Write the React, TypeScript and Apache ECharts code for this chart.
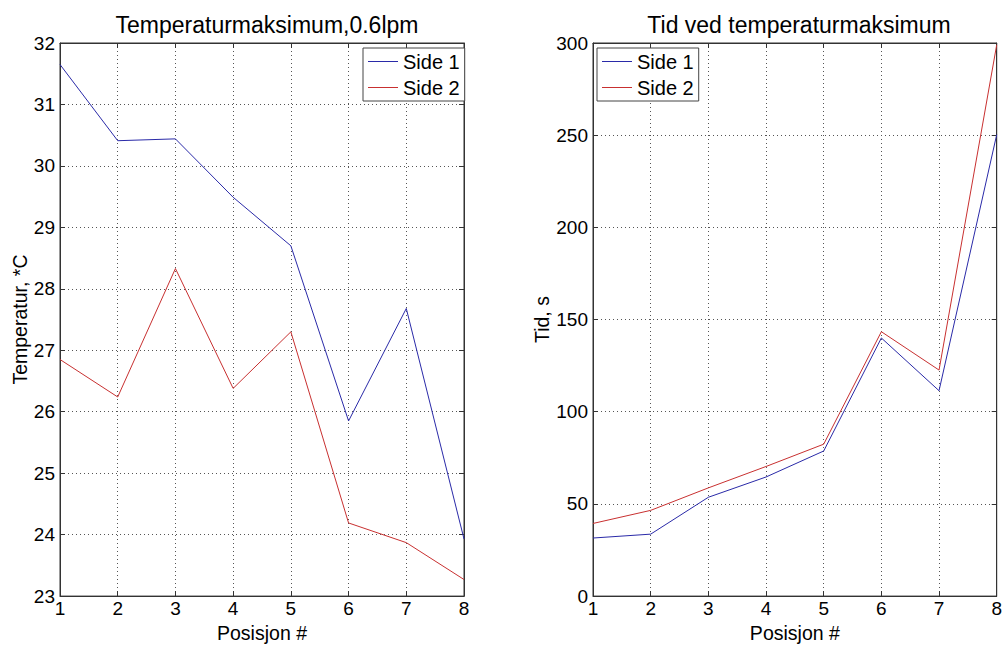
import React, { useEffect, useRef } from "react";
import * as echarts from "echarts";

const positions = [1, 2, 3, 4, 5, 6, 7, 8];
const tempSide1 = [31.65, 30.41, 30.44, 29.49, 28.7, 25.85, 27.68, 23.93];
const tempSide2 = [26.85, 26.24, 28.33, 26.38, 27.3, 24.19, 23.87, 23.27];
const timeSide1 = [31.5, 33.6, 53.6, 64.6, 78.7, 140.0, 111.4, 250.3];
const timeSide2 = [39.4, 46.5, 58.7, 70.3, 82.4, 143.4, 122.6, 299];

const leftTitle = "Temperaturmaksimum,0.6lpm";
const rightTitle = "Tid ved temperaturmaksimum";
const xName = "Posisjon #";
const leftYName = "Temperatur, *C";
const rightYName = "Tid, s";
const seriesNames = ["Side 1", "Side 2"];

const FONT = "'Liberation Sans', Arial, sans-serif";
const BLUE = "#2a2aa8";
const RED = "#c83030";
const AXIS = "#333";

function pairs(ys: number[]) {
  return positions.map((x, i) => [x, ys[i]]);
}

export default function App() {
  const ref = useRef<HTMLDivElement>(null);
  useEffect(() => {
    if (!ref.current) return;
    const chart = echarts.init(ref.current, null, { renderer: "svg" });
    const gridLine = { show: true, lineStyle: { color: "#555", type: [1, 3] as any, width: 1 } };
    const mkX = (gridIndex: number, position: "bottom" | "top") => ({
      type: "value",
      gridIndex,
      position,
      min: 1,
      max: 8,
      interval: 1,
      name: position === "bottom" ? xName : "",
      nameLocation: "middle",
      nameGap: 22,
      nameTextStyle: { fontFamily: FONT, fontSize: 19.5, color: "#000" },
      axisLine: { show: true, onZero: false, lineStyle: { color: AXIS, width: 1 } },
      axisTick: { show: true, inside: true, length: 5, lineStyle: { color: AXIS } },
      axisLabel: {
        show: position === "bottom",
        fontFamily: FONT,
        fontSize: 19,
        color: "#000",
        margin: 3,
      },
      splitLine: position === "bottom" ? gridLine : { show: false },
    });
    const mkY = (
      gridIndex: number,
      position: "left" | "right",
      min: number,
      max: number,
      interval: number,
      name: string,
      nameGap: number
    ) => ({
      type: "value",
      gridIndex,
      position,
      min,
      max,
      interval,
      name: position === "left" ? name : "",
      nameLocation: "middle",
      nameGap,
      nameRotate: 90,
      nameTextStyle: { fontFamily: FONT, fontSize: 19.5, color: "#000" },
      axisLine: { show: true, onZero: false, lineStyle: { color: AXIS, width: 1 } },
      axisTick: { show: true, inside: true, length: 5, lineStyle: { color: AXIS } },
      axisLabel: {
        show: position === "left",
        fontFamily: FONT,
        fontSize: 19,
        color: "#000",
        margin: 5,
      },
      splitLine: position === "left" ? gridLine : { show: false },
    });
    const legendBase = {
      orient: "vertical",
      top: 48,
      data: seriesNames,
      icon: "rect",
      itemWidth: 30,
      itemHeight: 1,
      itemGap: 5,
      padding: [3, 5, 3, 5],
      backgroundColor: "#fff",
      borderColor: "#444",
      borderWidth: 1,
      borderRadius: 0,
      selectedMode: false,
      textStyle: { fontFamily: FONT, fontSize: 20, color: "#000", lineHeight: 21 },
    };
    chart.setOption({
      animation: false,
      backgroundColor: "#fff",
      title: [
        {
          text: leftTitle,
          left: 262,
          textAlign: "center",
          top: 8,
          textStyle: { fontFamily: FONT, fontSize: 23, fontWeight: "normal", color: "#000" },
        },
        {
          text: rightTitle,
          left: 794,
          textAlign: "center",
          top: 8,
          textStyle: { fontFamily: FONT, fontSize: 23, fontWeight: "normal", color: "#000" },
        },
      ],
      legend: [
        { ...legendBase, left: 363 },
        { ...legendBase, left: 597 },
      ],
      grid: [
        { left: 60, top: 43, width: 404, height: 560, show: true, borderColor: AXIS, borderWidth: 1, backgroundColor: "transparent" },
        { left: 593, top: 43, width: 404, height: 560, show: true, borderColor: AXIS, borderWidth: 1, backgroundColor: "transparent" },
      ],
      xAxis: [mkX(0, "bottom"), mkX(0, "top"), mkX(1, "bottom"), mkX(1, "top")],
      yAxis: [
        mkY(0, "left", 23, 32, 1, leftYName, 30),
        mkY(0, "right", 23, 32, 1, "", 30),
        mkY(1, "left", 0, 300, 50, rightYName, 41),
        mkY(1, "right", 0, 300, 50, "", 41),
      ],
      series: [
        {
          name: seriesNames[0],
          type: "line",
          xAxisIndex: 0,
          yAxisIndex: 0,
          data: pairs(tempSide1),
          symbol: "none",
          lineStyle: { color: BLUE, width: 1 },
          itemStyle: { color: BLUE },
        },
        {
          name: seriesNames[1],
          type: "line",
          xAxisIndex: 0,
          yAxisIndex: 0,
          data: pairs(tempSide2),
          symbol: "none",
          lineStyle: { color: RED, width: 1 },
          itemStyle: { color: RED },
        },
        {
          name: seriesNames[0],
          type: "line",
          xAxisIndex: 2,
          yAxisIndex: 2,
          data: pairs(timeSide1),
          symbol: "none",
          lineStyle: { color: BLUE, width: 1 },
          itemStyle: { color: BLUE },
        },
        {
          name: seriesNames[1],
          type: "line",
          xAxisIndex: 2,
          yAxisIndex: 2,
          data: pairs(timeSide2),
          symbol: "none",
          lineStyle: { color: RED, width: 1 },
          itemStyle: { color: RED },
        },
      ],
    });
    return () => chart.dispose();
  }, []);
  return (
    <div
      ref={ref}
      style={{ position: "fixed", left: 0, top: 0, width: 1005, height: 648, background: "#fff" }}
    />
  );
}
